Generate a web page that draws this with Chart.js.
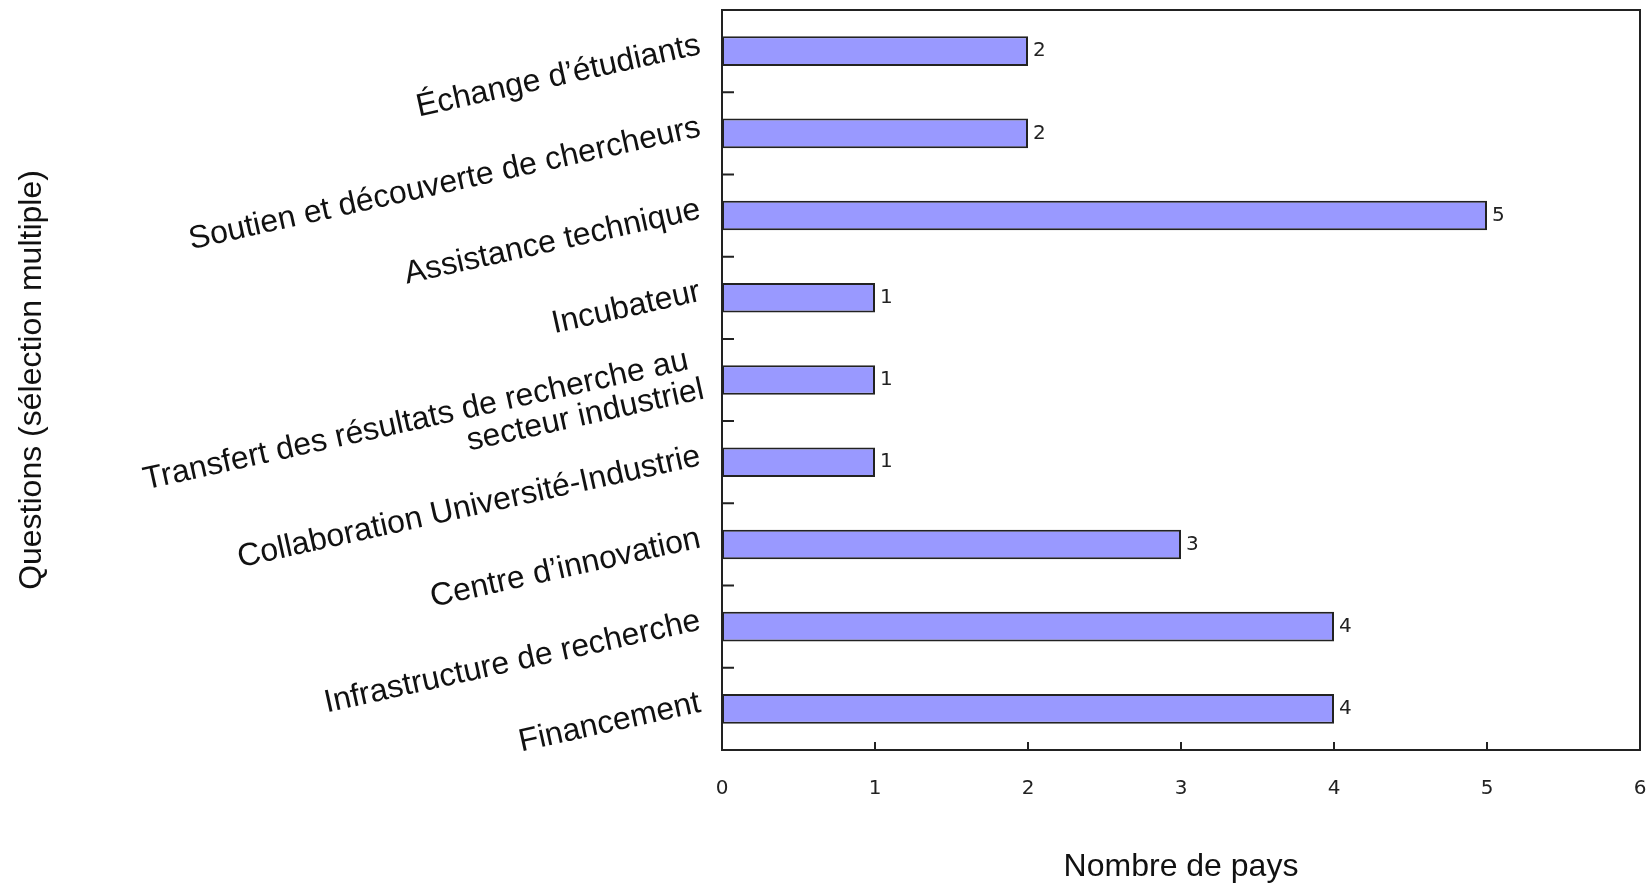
<!DOCTYPE html>
<html>
<head>
<meta charset="utf-8">
<script src="https://cdn.jsdelivr.net/npm/chart.js@4/dist/chart.umd.min.js"></script>
<style>
  html, body { margin: 0; padding: 0; background: #fff; }
  #wrap { width: 1652px; height: 886px; position: relative; }
</style>
</head>
<body>
<div id="wrap"><canvas id="chart"></canvas></div>
<script>
const categories = [
  "Échange d’étudiants",
  "Soutien et découverte de chercheurs",
  "Assistance technique",
  "Incubateur",
  ["Transfert des résultats de recherche au ", "secteur industriel"],
  "Collaboration Université-Industrie",
  "Centre d’innovation",
  "Infrastructure de recherche",
  "Financement"
];
const values = [2, 2, 5, 1, 1, 1, 3, 4, 4];
const xTicks = [0, 1, 2, 3, 4, 5, 6];
const xTitle = "Nombre de pays";
const yTitle = "Questions (sélection multiple)";

const numFont = { family: "DejaVu Sans", size: 20 };

// frame around the plot, inward tick marks and value labels
const decorations = {
  id: "decorations",
  afterDatasetsDraw(chart) {
    const { ctx, chartArea: a, scales } = chart;
    ctx.save();
    ctx.strokeStyle = "#222";
    ctx.lineWidth = 2;
    ctx.strokeRect(a.left, a.top, a.right - a.left, a.bottom - a.top);

    ctx.beginPath();
    xTicks.slice(1, -1).forEach(v => {
      const x = scales.x.getPixelForValue(v);
      ctx.moveTo(x, a.bottom);
      ctx.lineTo(x, a.bottom - 8);
    });
    for (let i = 0; i < categories.length - 1; i++) {
      const y = scales.y.getPixelForValue(i + 0.5);
      ctx.moveTo(a.left, y);
      ctx.lineTo(a.left + 12, y);
    }
    ctx.stroke();

    ctx.fillStyle = "#222";
    ctx.font = numFont.size + "px " + numFont.family;
    ctx.textAlign = "left";
    ctx.textBaseline = "middle";
    chart.getDatasetMeta(0).data.forEach((bar, i) => {
      ctx.fillText(String(values[i]), bar.x + 5, bar.y);
    });
    ctx.restore();
  }
};

new Chart(document.getElementById("chart"), {
  type: "bar",
  data: {
    labels: categories,
    datasets: [{
      data: values,
      backgroundColor: "#9999ff",
      borderColor: "#222",
      borderWidth: 2,
      borderSkipped: false,
      barPercentage: 0.36,
      categoryPercentage: 1
    }]
  },
  options: {
    indexAxis: "y",
    responsive: true,
    maintainAspectRatio: false,
    devicePixelRatio: 1,
    animation: false,
    layout: { padding: { top: 10, right: 12, left: 0, bottom: 0 } },
    plugins: { legend: { display: false }, tooltip: { enabled: false } },
    scales: {
      x: {
        min: 0,
        max: 6,
        afterBuildTicks: s => { s.ticks = xTicks.map(v => ({ value: v })); },
        grid: { display: false, drawTicks: false },
        border: { display: false },
        ticks: { color: "#222", font: numFont, padding: 27 },
        title: {
          display: true,
          text: xTitle,
          color: "#111",
          font: { family: "Liberation Sans", size: 32 },
          padding: 0
        },
        afterFit: s => { s.height = 136; s.paddingLeft = 0; s.paddingRight = 0; }
      },
      y: {
        grid: { display: false, drawTicks: false },
        border: { display: false },
        ticks: {
          color: "#111",
          font: { family: "Liberation Sans", size: 32, lineHeight: 1.0 },
          minRotation: 12.5,
          maxRotation: 12.5,
          padding: 22,
          labelOffset: -6,
          autoSkip: false
        },
        title: {
          display: true,
          text: yTitle,
          color: "#111",
          font: { family: "Liberation Sans", size: 32 },
          padding: { top: 13, bottom: 0 }
        },
        afterFit: s => { s.width = 722; s.paddingTop = 0; s.paddingBottom = 0; }
      }
    }
  },
  plugins: [decorations]
});
</script>
</body>
</html>
